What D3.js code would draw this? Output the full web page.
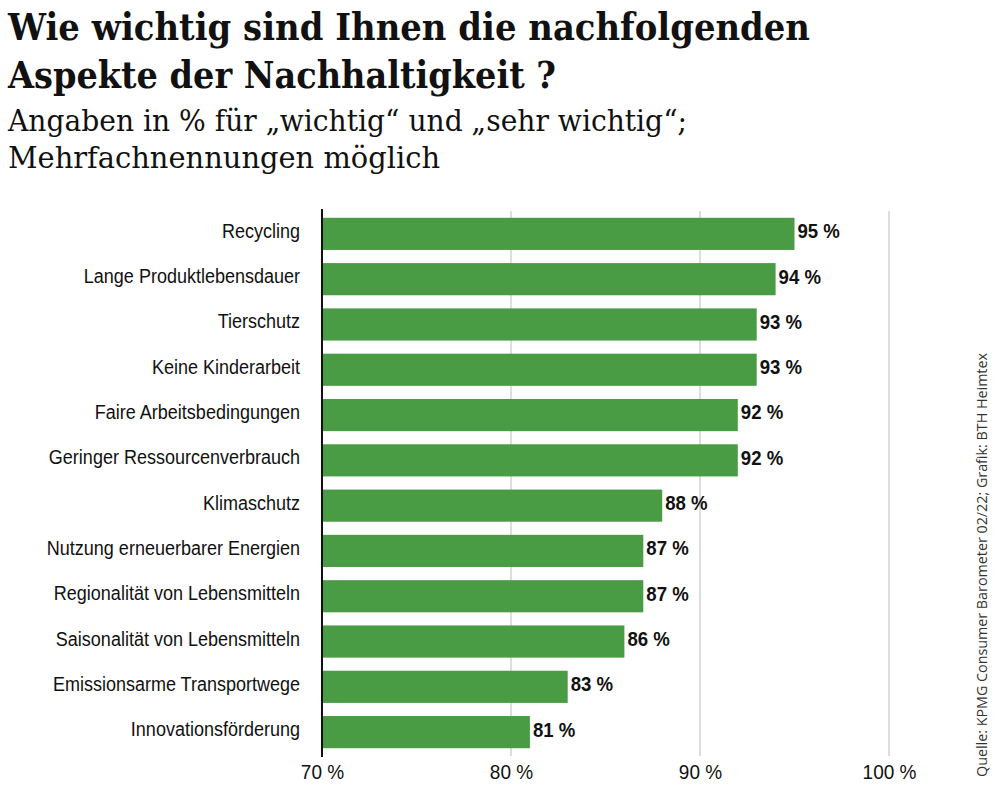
<!DOCTYPE html>
<html><head><meta charset="utf-8">
<script src="https://cdn.jsdelivr.net/npm/d3@7"></script>
<style>body{margin:0;background:#fff}</style>
</head><body>
<svg id="c" width="1000" height="799"></svg>
<script>
const categories = ["Recycling","Lange Produktlebensdauer","Tierschutz","Keine Kinderarbeit","Faire Arbeitsbedingungen","Geringer Ressourcenverbrauch","Klimaschutz","Nutzung erneuerbarer Energien","Regionalität von Lebensmitteln","Saisonalität von Lebensmitteln","Emissionsarme Transportwege","Innovationsförderung"];
const values = [95,94,93,93,92,92,88,87,87,86,83,81];
const ticks = [70,80,90,100];
const tickLabels = ["70 %","80 %","90 %","100 %"];

const svg = d3.select("#c");
const narrow = "'Liberation Sans Narrow','Arial Narrow','Liberation Sans',sans-serif";
const slab = "'DejaVu Serif',serif";

function squeeze(sel, f){
  sel.each(function(){ const L=this.getComputedTextLength(); d3.select(this).attr("textLength",L*f).attr("lengthAdjust","spacingAndGlyphs"); });
}

// titles
const t = svg.append("g").attr("font-family", slab).attr("fill","#111");
t.append("text").attr("x",8).attr("y",40).attr("font-size",38).attr("font-weight","bold")
 .attr("textLength",802).attr("lengthAdjust","spacingAndGlyphs").text("Wie wichtig sind Ihnen die nachfolgenden");
t.append("text").attr("x",8).attr("y",88).attr("font-size",38).attr("font-weight","bold")
 .attr("textLength",548).attr("lengthAdjust","spacingAndGlyphs").text("Aspekte der Nachhaltigkeit ?");
t.append("text").attr("x",8).attr("y",131).attr("font-size",29)
 .attr("textLength",679).attr("lengthAdjust","spacingAndGlyphs").text("Angaben in % für „wichtig“ und „sehr wichtig“;");
t.append("text").attr("x",8).attr("y",168).attr("font-size",29)
 .attr("textLength",432).attr("lengthAdjust","spacingAndGlyphs").text("Mehrfachnennungen möglich");

const x = d3.scaleLinear().domain([70,100]).range([322,889]);
const y = d3.scaleBand().domain(categories).range([211,755]).paddingInner(0.29).paddingOuter(0.15);

// gridlines
svg.append("g").selectAll("line").data(ticks.slice(1)).join("line")
  .attr("x1",d=>x(d)).attr("x2",d=>x(d)).attr("y1",211).attr("y2",756)
  .attr("stroke","#c8c8c8").attr("stroke-width",1.2);

// bars
svg.append("g").selectAll("rect").data(values).join("rect")
  .attr("x",x(70)).attr("y",(d,i)=>y(categories[i]))
  .attr("width",d=>x(d)-x(70)).attr("height",y.bandwidth())
  .attr("fill","#4a9c44");

// value labels
const vl = svg.append("g").selectAll("text").data(values).join("text")
  .attr("x",d=>x(d)+3).attr("y",(d,i)=>y(categories[i])+y.bandwidth()/2)
  .attr("dy","0.22em").attr("font-family",narrow).attr("font-weight","bold")
  .attr("font-size",20).attr("fill","#111").text(d=>d+" %");
squeeze(vl, 0.93);

// category labels
const cl = svg.append("g").selectAll("text").data(categories).join("text")
  .attr("x",300).attr("y",d=>y(d)+y.bandwidth()/2).attr("dy","0.2em")
  .attr("text-anchor","end").attr("font-family",narrow).attr("font-size",20)
  .attr("fill","#111").text(d=>d);
squeeze(cl, 0.9);

// axis line
svg.append("line").attr("x1",322).attr("x2",322).attr("y1",209).attr("y2",757)
  .attr("stroke","#111").attr("stroke-width",2);

// x axis
const ax = svg.append("g").attr("transform","translate(0,757)")
  .call(d3.axisBottom(x).tickValues(ticks).tickFormat((d,i)=>tickLabels[i]).tickSize(0).tickPadding(8));
ax.select(".domain").remove();
ax.selectAll("text").attr("font-family",narrow).attr("font-size",20).attr("fill","#111");
squeeze(ax.selectAll("text"), 0.95);

// source
svg.append("text").attr("transform","translate(987,565) rotate(-90)")
  .attr("text-anchor","middle").attr("font-family","'Open Sans',sans-serif")
  .attr("font-size",14.5).attr("fill","#333").attr("textLength",424).attr("lengthAdjust","spacingAndGlyphs")
  .text("Quelle: KPMG Consumer Barometer 02/22; Grafik: BTH Heimtex");
</script>
</body></html>
